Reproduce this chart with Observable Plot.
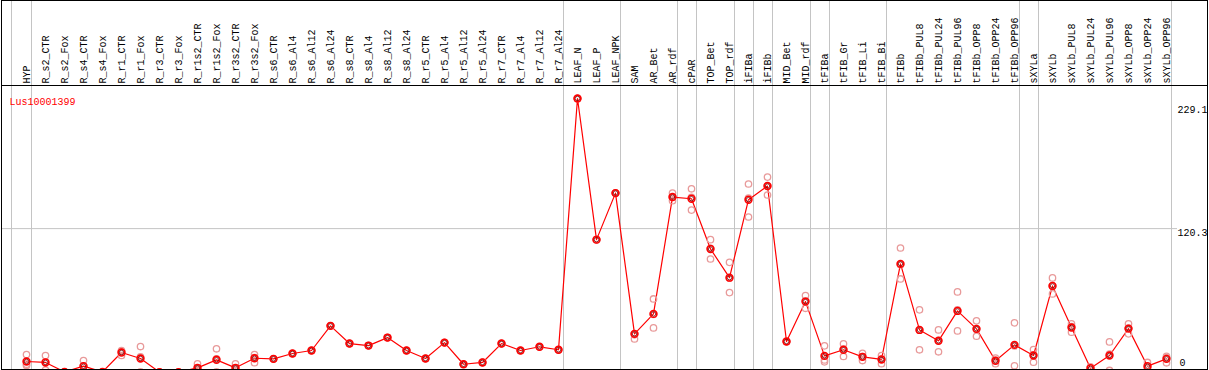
<!DOCTYPE html>
<html><head><meta charset="utf-8">
<script src="https://cdn.jsdelivr.net/npm/d3@7"></script>
<script src="https://cdn.jsdelivr.net/npm/@observablehq/plot@0.6"></script>
<style>body{margin:0;background:#fff}</style>
</head><body><div id="chart"></div>
<script>
const categories = ["HYP","R_s2_CTR","R_s2_Fox","R_s4_CTR","R_s4_Fox","R_r1_CTR","R_r1_Fox","R_r3_CTR","R_r3_Fox","R_r1s2_CTR","R_r1s2_Fox","R_r3s2_CTR","R_r3s2_Fox","R_s6_CTR","R_s6_Al4","R_s6_Al12","R_s6_Al24","R_s8_CTR","R_s8_Al4","R_s8_Al12","R_s8_Al24","R_r5_CTR","R_r5_Al4","R_r5_Al12","R_r5_Al24","R_r7_CTR","R_r7_Al4","R_r7_Al12","R_r7_Al24","LEAF_N","LEAF_P","LEAF_NPK","SAM","AR_Bet","AR_rdf","cPAR","TOP_Bet","TOP_rdf","iFIBa","iFIBb","MID_Bet","MID_rdf","tFIBa","tFIB_Gr","tFIB_Li","tFIB_Bi","tFIBb","tFIBb_PUL8","tFIBb_PUL24","tFIBb_PUL96","tFIBb_OPP8","tFIBb_OPP24","tFIBb_OPP96","sXYLa","sXYLb","sXYLb_PUL8","sXYLb_PUL24","sXYLb_PUL96","sXYLb_OPP8","sXYLb_OPP24","sXYLb_OPP96"];

const means = [9.2,8.4,0.5,5.3,0.5,16.7,11.7,0.3,0.3,3.9,10.6,3.9,11.9,11.4,15.9,18.4,39.0,24.2,22.5,29.2,18.4,11.7,25.0,6.9,8.4,24.2,18.4,21.5,19.0,229.1,111.1,150.0,32.3,49.0,146.7,145.3,103.3,79.3,144.5,155.9,25.9,59.3,13.9,19.0,13.1,10.9,90.8,35.6,26.5,51.5,36.5,9.8,23.1,14.2,72.4,37.6,3.6,14.2,36.7,5.3,11.4];

const rep1 = [15.0,14.2,0.5,10.0,0.5,14.2,21.7,0.3,0.3,7.3,19.8,7.3,15.0,11.4,15.9,18.4,39.0,24.2,22.5,29.2,18.4,11.7,25.0,6.9,8.4,24.2,18.4,21.5,19.0,229.1,111.1,150.0,31.5,61.5,150.0,153.6,111.1,92.1,157.6,163.4,25.9,64.3,22.3,24.0,16.1,14.2,104.1,52.4,35.6,67.4,43.2,12.0,41.5,19.2,79.1,40.7,1.7,25.6,40.7,8.4,13.6];
const rep2 = [7.0,9.0,0.5,5.5,0.5,17.5,13.0,0.3,0.3,3.0,11.5,3.0,12.5,11.4,15.9,18.4,39.0,24.2,22.5,29.2,18.4,11.7,25.0,6.9,8.4,24.2,18.4,21.5,19.0,229.1,111.1,150.0,28.1,37.3,143.6,135.8,94.9,66.8,130.0,148.4,25.9,53.7,8.9,13.4,10.0,7.3,78.2,19.0,17.3,34.8,30.3,7.3,5.6,8.6,65.7,33.7,4.5,1.7,32.3,3.5,8.1];
const rep3 = [5.8,2.0,0.5,0.5,0.5,18.4,0.5,0.3,0.3,1.5,0.5,1.5,8.2,11.4,15.9,18.4,39.0,24.2,22.5,29.2,18.4,11.7,25.0,6.9,8.4,24.2,18.4,21.5,19.0,229.1,111.1,150.0,32.3,48.5,146.5,146.5,103.9,79.0,145.9,155.9,25.9,59.9,10.5,19.6,13.2,11.2,90.1,35.4,26.6,52.3,36.0,10.1,22.2,14.8,72.4,38.4,4.6,15.3,37.1,4.0,12.5];

const geneId = "Lus10001399";
const groupEnds = ["HYP","R_r7_Al24","LEAF_NPK","AR_rdf","cPAR","TOP_rdf","iFIBa","iFIBb","MID_rdf","tFIBa","tFIB_Bi","tFIBb_OPP96","sXYLa","sXYLb_OPP96"];
const yTickTop = [229.1];
const yTickMid = [120.3];
const yTickZero = [0];

const meanRows = categories.map((c, i) => ({cat: c, value: means[i]}));
const repRows = categories.flatMap((c, i) => [rep1[i], rep2[i], rep3[i]].map(v => ({cat: c, value: v})));

const grid = "#c4c4c4";
const chart = Plot.plot({
  width: 1209, height: 370,
  marginTop: 85, marginBottom: 1, marginLeft: 1, marginRight: 2,
  style: {fontFamily: "'Liberation Mono', 'DejaVu Sans Mono', monospace", fontSize: "10px", background: "#fff", color: "#000"},
  x: {type: "point", domain: categories, range: [26, 1166], padding: 0, axis: null},
  y: {domain: [0, 229.1], range: [372, 98], axis: null},
  marks: [
    Plot.ruleY(yTickMid, {stroke: grid, insetRight: 30}),
    Plot.ruleX([categories[0]], {stroke: grid, dx: -15, insetTop: -85}),
    Plot.ruleX(groupEnds, {stroke: grid, dx: 5, insetTop: -85}),
    Plot.text(categories, {x: d => d, frameAnchor: "top", rotate: -90, textAnchor: "start", dy: -2, dx: -4, fill: "#000"}),
    Plot.text([geneId], {frameAnchor: "top-left", textAnchor: "start", dx: 8, dy: 12.5, fill: "#ff0000"}),
    Plot.text(yTickTop, {y: d => d, frameAnchor: "right", textAnchor: "start", dx: -30, dy: 11, text: d => String(d), fill: "#000"}),
    Plot.text(yTickMid, {y: d => d, frameAnchor: "right", textAnchor: "start", dx: -30, dy: 4, text: d => String(d), fill: "#000"}),
    Plot.text(yTickZero, {y: d => d, frameAnchor: "right", textAnchor: "start", dx: -28, dy: -10, text: d => String(d), fill: "#000"}),
    Plot.line(meanRows, {x: "cat", y: "value", stroke: "#ff0000", strokeWidth: 1.2}),
    Plot.dot(repRows, {x: "cat", y: "value", r: 3.2, stroke: "#e89a9a", strokeWidth: 1.3, fill: "none"}),
    Plot.dot(meanRows, {x: "cat", y: "value", r: 3.4, stroke: "#ff0000", strokeWidth: 1.6, fill: "none"}),
    Plot.dot(meanRows, {x: "cat", y: "value", r: 2.2, stroke: "#7a0000", strokeWidth: 0.8, fill: "none"}),
    Plot.frame({insetTop: -85, stroke: "#000"}),
    Plot.frame({stroke: "#000"})
  ]
});
document.getElementById("chart").appendChild(chart);
</script>
</body></html>
